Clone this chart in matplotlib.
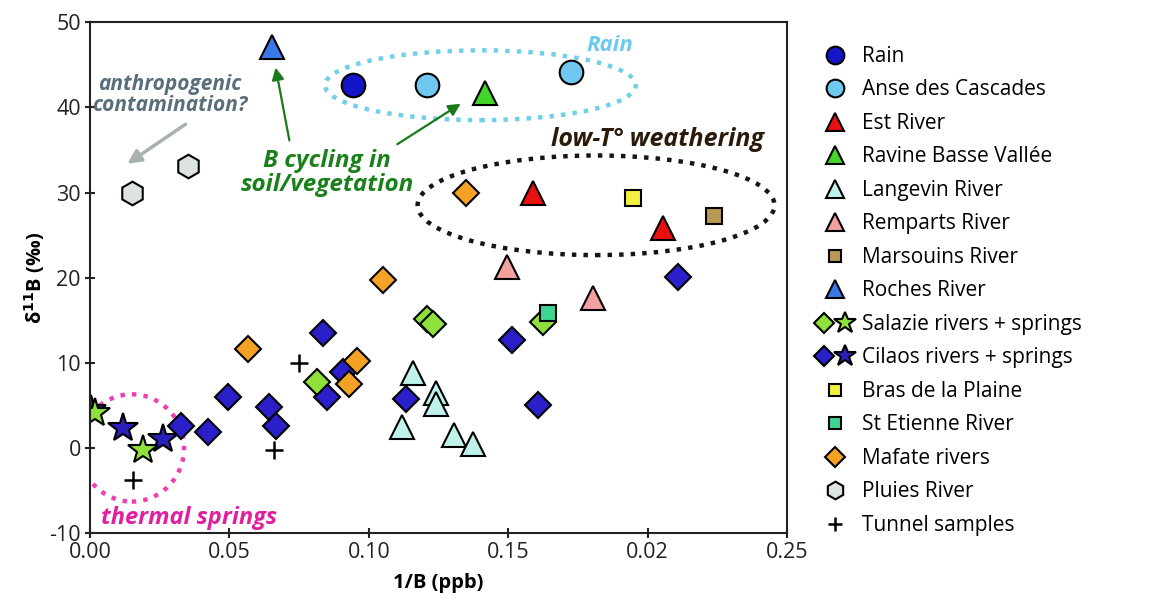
import numpy as np
import matplotlib.pyplot as plt
from matplotlib.patches import Ellipse
from matplotlib.legend_handler import HandlerTuple

plt.rcParams['font.family'] = ['Open Sans', 'DejaVu Sans']
plt.rcParams['axes.unicode_minus'] = False

# data: (1/B, d11B)
rain_x = [0.0945]
rain_y = [42.6]
anse_x = [0.121, 0.1725]
anse_y = [42.6, 44.1]
est_x = [0.159, 0.2055]
est_y = [30.0, 25.8]
ravine_x = [0.1417]
ravine_y = [41.7]
langevin_x = [0.1159, 0.124, 0.124, 0.112, 0.1306, 0.1374]
langevin_y = [8.8, 6.4, 5.2, 2.5, 1.5, 0.5]
remparts_x = [0.1496, 0.1804]
remparts_y = [21.3, 17.6]
marsouins_x = [0.2238]
marsouins_y = [27.3]
roches_x = [0.0653]
roches_y = [47.1]
salazie_riv_x = [0.0813, 0.1208, 0.123, 0.1626]
salazie_riv_y = [7.8, 15.2, 14.6, 14.8]
salazie_spr_x = [0.0018, 0.019]
salazie_spr_y = [4.1, -0.2]
cilaos_riv_x = [0.0326, 0.0424, 0.0496, 0.0643, 0.0667, 0.0835, 0.085, 0.0909,
                0.1133, 0.1514, 0.1607, 0.2109]
cilaos_riv_y = [2.6, 1.9, 6.0, 4.8, 2.6, 13.5, 6.0, 8.9, 5.8, 12.7, 5.0, 20.1]
cilaos_spr_x = [0.0005, 0.0119, 0.0262]
cilaos_spr_y = [4.4, 2.3, 1.1]
bras_x = [0.1948]
bras_y = [29.4]
etienne_x = [0.1643]
etienne_y = [15.8]
mafate_x = [0.1349, 0.1051, 0.0568, 0.0957, 0.093]
mafate_y = [29.9, 19.7, 11.6, 10.2, 7.5]
pluies_x = [0.0151, 0.0352]
pluies_y = [29.9, 33.1]
tunnel_x = [0.0154, 0.066, 0.075]
tunnel_y = [-3.75, -0.2, 10.0]

x_ticks = [0.0, 0.05, 0.10, 0.15, 0.20, 0.25]
x_labels = ['0.00', '0.05', '0.10', '0.15', '0.02', '0.25']
y_ticks = [-10, 0, 10, 20, 30, 40, 50]

fig = plt.figure(figsize=(11.67, 6.01), dpi=100)
ax = fig.add_axes([0.0771, 0.113, 0.5973, 0.85])

# ellipses first so markers sit on top
ax.add_patch(Ellipse((0.14, 42.6), 0.1115, 8.2, fill=False, ec='#6fd0e8',
                     ls=(0, (1, 1.6)), lw=3.2, zorder=1))
ax.add_patch(Ellipse((0.1815, 28.5), 0.128, 11.7, fill=False, ec='#151515',
                     ls=(0, (1, 1.6)), lw=3.2, zorder=1))
ax.add_patch(Ellipse((0.0150, 0.0), 0.0375, 12.6, fill=False, ec='#ee40b0',
                     ls=(0, (1, 1.6)), lw=3.2, zorder=1))

ec = 'black'
mew = 1.5
h = {}
h['rain'], = ax.plot(rain_x, rain_y, 'o', ms=17, mfc='#1414c8', mec=ec, mew=mew, ls='none')
h['anse'], = ax.plot(anse_x, anse_y, 'o', ms=17, mfc='#70c8f0', mec=ec, mew=mew, ls='none')
h['est'], = ax.plot(est_x, est_y, '^', ms=17, mfc='#e81010', mec=ec, mew=mew, ls='none')
h['ravine'], = ax.plot(ravine_x, ravine_y, '^', ms=17, mfc='#44d42a', mec=ec, mew=mew, ls='none')
h['langevin'], = ax.plot(langevin_x, langevin_y, '^', ms=17, mfc='#bff2ea', mec=ec, mew=mew, ls='none')
h['remparts'], = ax.plot(remparts_x, remparts_y, '^', ms=17, mfc='#f2a0a0', mec=ec, mew=mew, ls='none')
h['marsouins'], = ax.plot(marsouins_x, marsouins_y, 's', ms=11, mfc='#b99a55', mec=ec, mew=mew, ls='none')
h['roches'], = ax.plot(roches_x, roches_y, '^', ms=17, mfc='#3a78e8', mec=ec, mew=mew, ls='none')
h['cil_spr'], = ax.plot(cilaos_spr_x, cilaos_spr_y, '*', ms=22, mfc='#2a1fb8', mec=ec, mew=mew, ls='none')
h['sal_spr'], = ax.plot(salazie_spr_x, salazie_spr_y, '*', ms=22, mfc='#8ee03a', mec=ec, mew=mew, ls='none')
h['cil_riv'], = ax.plot(cilaos_riv_x, cilaos_riv_y, 'D', ms=13, mfc='#2a1fc8', mec=ec, mew=mew, ls='none')
h['sal_riv'], = ax.plot(salazie_riv_x, salazie_riv_y, 'D', ms=13, mfc='#8ee03a', mec=ec, mew=mew, ls='none')
h['bras'], = ax.plot(bras_x, bras_y, 's', ms=11, mfc='#f4f040', mec=ec, mew=mew, ls='none')
h['etienne'], = ax.plot(etienne_x, etienne_y, 's', ms=11, mfc='#3ed494', mec=ec, mew=mew, ls='none')
h['mafate'], = ax.plot(mafate_x, mafate_y, 'D', ms=13, mfc='#f4a224', mec=ec, mew=mew, ls='none')
h['pluies'], = ax.plot(pluies_x, pluies_y, 'h', ms=17, mfc='#dde2e2', mec=ec, mew=mew, ls='none')
h['tunnel'], = ax.plot(tunnel_x, tunnel_y, '+', ms=13, mec='black', mew=1.8, ls='none')

# annotations
ax.text(0.1865, 47.3, 'Rain', color='#6ec8f0', fontsize=16, fontweight='bold',
        style='italic', ha='center', va='center')
ax.text(0.2035, 36.2, 'low-T° weathering', color='#2b1a0a', fontsize=18,
        fontweight='bold', style='italic', ha='center', va='center')
ax.text(0.0355, -8.2, 'thermal springs', color='#e020a0', fontsize=17,
        fontweight='bold', style='italic', ha='center', va='center')
ax.text(0.0285, 41.4, 'anthropogenic\ncontamination?', color='#5a6e7a',
        fontsize=15, fontweight='bold', style='italic', ha='center', va='center',
        linespacing=1.0)
ax.text(0.085, 32.3, 'B cycling in\nsoil/vegetation', color='#1a801a',
        fontsize=17.5, fontweight='bold', style='italic', ha='center', va='center',
        linespacing=1.0)
ax.annotate('', xy=(0.0126, 33.2), xytext=(0.0351, 38.2),
            arrowprops=dict(arrowstyle='-|>', color='#a8b0b0', lw=2.5,
                            mutation_scale=20))
ax.annotate('', xy=(0.0664, 45.0), xytext=(0.0717, 35.8),
            arrowprops=dict(arrowstyle='-|>', color='#1a7a1a', lw=1.6,
                            mutation_scale=18))
ax.annotate('', xy=(0.1338, 40.6), xytext=(0.1094, 35.5),
            arrowprops=dict(arrowstyle='-|>', color='#1a7a1a', lw=1.6,
                            mutation_scale=18))

ax.set_xlim(0, 0.25)
ax.set_ylim(-10, 50)
ax.set_xticks(x_ticks)
ax.set_xticklabels(x_labels)
ax.set_yticks(y_ticks)
ax.tick_params(labelsize=15.5, direction='inout', length=7, width=1.5,
               colors='#222222', pad=3)
for s in ax.spines.values():
    s.set_linewidth(1.5)
    s.set_color('#222222')
ax.set_xlabel('1/B (ppb)', fontsize=14.5, fontweight='bold', labelpad=7)
ax.set_ylabel(r'δ$^{\mathbf{11}}$B (‰)', fontsize=14.5, fontweight='bold', labelpad=2)

handles = [h['rain'], h['anse'], h['est'], h['ravine'], h['langevin'], h['remparts'],
           h['marsouins'], h['roches'], (h['sal_riv'], h['sal_spr']),
           (h['cil_riv'], h['cil_spr']), h['bras'], h['etienne'], h['mafate'],
           h['pluies'], h['tunnel']]
labels = ['Rain', 'Anse des Cascades', 'Est River', 'Ravine Basse Vallée',
          'Langevin River', 'Remparts River', 'Marsouins River', 'Roches River',
          'Salazie rivers + springs', 'Cilaos rivers + springs', 'Bras de la Plaine',
          'St Etienne River', 'Mafate rivers', 'Pluies River', 'Tunnel samples']
leg = fig.legend(handles, labels, loc='upper left', bbox_to_anchor=(0.683, 0.955),
                 frameon=False, fontsize=15, labelspacing=0.6, handletextpad=0.4,
                 handlelength=1.8, markerscale=0.75,
                 handler_map={tuple: HandlerTuple(ndivide=None, pad=0.3)})

fig.savefig('out.png', dpi=100)
